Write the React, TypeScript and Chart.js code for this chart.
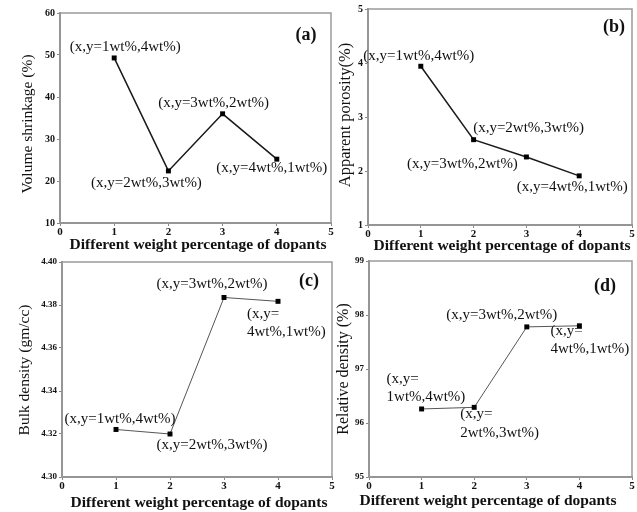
import React, { useEffect, useRef } from "react";
import { Chart, registerables } from "chart.js";
Chart.register(...registerables);

const dopantSteps = [1, 2, 3, 4];
const volumeShrinkage = [49.3, 22.4, 36.0, 25.2];
const apparentPorosity = [3.94, 2.58, 2.26, 1.91];
const bulkDensity = [4.3221, 4.32, 4.3835, 4.3817];
const relativeDensity = [96.26, 96.29, 97.78, 97.8];
const pointLabels = ["(x,y=1wt%,4wt%)", "(x,y=2wt%,3wt%)", "(x,y=3wt%,2wt%)", "(x,y=4wt%,1wt%)"];
const splitLabels = [
  ["(x,y=", "1wt%,4wt%)"],
  ["(x,y=", "2wt%,3wt%)"],
  ["(x,y=", "3wt%,2wt%)"],
  ["(x,y=", "4wt%,1wt%)"],
];
const xTitle = "Different weight percentage of dopants";
const yTitles = ["Volume shrinkage (%)", "Apparent porosity(%)", "Bulk density (gm/cc)", "Relative density (%)"];
const panelTags = ["(a)", "(b)", "(c)", "(d)"];

const SERIF = "'Liberation Serif', 'Times New Roman', serif";

type LabelSpec = { lines: string[]; dx: number; dy: number[]; align: CanvasTextAlign };

type Panel = {
  box: { left: number; top: number; width: number; height: number };
  yW: number; padR: number; padT: number; xH: number;
  yMin: number; yMax: number; yStep: number; decimals: number;
  values: number[];
  yTitle: string; yTitlePos: [number, number]; yTitleSize: number;
  xTitlePos: [number, number];
  tag: string; tagPos: [number, number];
  labels: LabelSpec[];
  lineColor: string; lineWidth: number; yTickSize: number;
};

const c = (lines: string[], dx: number, dy: number): LabelSpec => ({ lines, dx, dy: [dy], align: "center" });
const s = (lines: string[], dx: number, dy: number[]): LabelSpec => ({ lines, dx, dy, align: "left" });

const panels: Panel[] = [
  {
    box: { left: 0, top: 0, width: 340, height: 256 },
    yW: 60, padR: 9, padT: 13, xH: 33,
    yMin: 10, yMax: 60, yStep: 10, decimals: 0,
    values: volumeShrinkage,
    yTitle: yTitles[0], yTitlePos: [28, 124], yTitleSize: 15.5,
    xTitlePos: [198, 245],
    tag: panelTags[0], tagPos: [306, 35],
    labels: [
      c([pointLabels[0]], 11, -11),
      c([pointLabels[1]], -22, 12),
      c([pointLabels[2]], -9, -11),
      c([pointLabels[3]], -5, 9),
    ],
    lineColor: "#1a1a1a", lineWidth: 1.5, yTickSize: 10,
  },
  {
    box: { left: 310, top: 0, width: 327, height: 256 },
    yW: 58, padR: 5, padT: 9, xH: 31,
    yMin: 1, yMax: 5, yStep: 1, decimals: 0,
    values: apparentPorosity,
    yTitle: yTitles[1], yTitlePos: [346, 115], yTitleSize: 16.5,
    xTitlePos: [502, 246],
    tag: panelTags[1], tagPos: [614, 27],
    labels: [
      c([pointLabels[0]], -2, -10),
      c([pointLabels[1]], 55, -12),
      c([pointLabels[2]], -64, 7),
      c([pointLabels[3]], -7, 11),
    ],
    lineColor: "#1a1a1a", lineWidth: 1.5, yTickSize: 10,
  },
  {
    box: { left: 0, top: 250, width: 340, height: 262 },
    yW: 62, padR: 8, padT: 12, xH: 35,
    yMin: 4.3, yMax: 4.4, yStep: 0.02, decimals: 2,
    values: bulkDensity,
    yTitle: yTitles[2], yTitlePos: [25, 370], yTitleSize: 15.5,
    xTitlePos: [199, 503],
    tag: panelTags[2], tagPos: [309, 281],
    labels: [
      c([pointLabels[0]], 4, -10),
      c([pointLabels[1]], 42, 11),
      c([pointLabels[2]], -12, -13),
      s(splitLabels[3], -31, [13, 31]),
    ],
    lineColor: "#555555", lineWidth: 1, yTickSize: 9,
  },
  {
    box: { left: 310, top: 250, width: 327, height: 262 },
    yW: 59, padR: 5, padT: 11, xH: 35,
    yMin: 95, yMax: 99, yStep: 1, decimals: 0,
    values: relativeDensity,
    yTitle: yTitles[3], yTitlePos: [344, 369], yTitleSize: 16,
    xTitlePos: [488, 501],
    tag: panelTags[3], tagPos: [605, 286],
    labels: [
      s(splitLabels[0], -35, [-30, -12]),
      s(splitLabels[1], -14, [7, 26]),
      c([pointLabels[2]], -25, -12),
      s(splitLabels[3], -29, [5, 23]),
    ],
    lineColor: "#555555", lineWidth: 1, yTickSize: 9,
  },
];

function makeChart(canvas: HTMLCanvasElement, p: Panel) {
  const decorations = {
    id: "decorations",
    beforeDatasetsDraw(chart: any) {
      const { ctx, chartArea } = chart;
      ctx.save();
      ctx.strokeStyle = "#9a9a9a";
      ctx.lineWidth = 1.5;
      ctx.strokeRect(chartArea.left, chartArea.top, chartArea.right - chartArea.left, chartArea.bottom - chartArea.top);
      ctx.restore();
    },
    afterDatasetsDraw(chart: any) {
      const { ctx } = chart;
      const xs = chart.scales.x;
      const ys = chart.scales.y;
      const ox = p.box.left;
      const oy = p.box.top;
      ctx.save();
      ctx.fillStyle = "#111";
      ctx.textBaseline = "middle";
      ctx.font = `15px ${SERIF}`;
      p.labels.forEach((lab, i) => {
        const px = xs.getPixelForValue(dopantSteps[i]);
        const py = ys.getPixelForValue(p.values[i]);
        ctx.textAlign = lab.align;
        lab.lines.forEach((line, j) => {
          ctx.fillText(line, px + lab.dx, py + lab.dy[j]);
        });
      });
      ctx.font = `bold 18px ${SERIF}`;
      ctx.textAlign = "center";
      ctx.fillText(p.tag, p.tagPos[0] - ox, p.tagPos[1] - oy);
      ctx.font = `bold 15.5px ${SERIF}`;
      ctx.fillText(xTitle, p.xTitlePos[0] - ox, p.xTitlePos[1] - oy);
      ctx.font = `${p.yTitleSize}px ${SERIF}`;
      ctx.translate(p.yTitlePos[0] - ox, p.yTitlePos[1] - oy);
      ctx.rotate(-Math.PI / 2);
      ctx.fillText(p.yTitle, 0, 0);
      ctx.restore();
    },
  };

  return new Chart(canvas, {
    type: "line",
    data: {
      datasets: [
        {
          data: dopantSteps.map((x, i) => ({ x, y: p.values[i] })),
          borderColor: p.lineColor,
          borderWidth: p.lineWidth,
          pointStyle: "rect",
          pointRadius: 3.5,
          pointBackgroundColor: "#000",
          pointBorderColor: "#000",
          pointBorderWidth: 0,
          tension: 0,
        },
      ],
    },
    options: {
      animation: false,
      responsive: false,
      maintainAspectRatio: false,
      events: [],
      layout: { padding: { left: 0, right: p.padR, top: p.padT, bottom: 0 } },
      plugins: { legend: { display: false }, tooltip: { enabled: false } },
      scales: {
        x: {
          type: "linear",
          min: 0,
          max: 5,
          afterFit: (sc: any) => { sc.height = p.xH; },
          ticks: { stepSize: 1, padding: 0, color: "#111", font: { family: SERIF, size: 11, weight: "bold" } },
          grid: { drawOnChartArea: false, drawTicks: true, tickLength: 3, color: "#888" },
          border: { color: "#888", width: 2 },
        },
        y: {
          type: "linear",
          min: p.yMin,
          max: p.yMax,
          afterFit: (sc: any) => { sc.width = p.yW; },
          ticks: {
            stepSize: p.yStep,
            padding: 2,
            color: "#111",
            font: { family: SERIF, size: p.yTickSize, weight: "bold" },
            callback: (v: any) => Number(v).toFixed(p.decimals),
          },
          grid: { drawOnChartArea: false, drawTicks: true, tickLength: 3, color: "#888" },
          border: { color: "#888", width: 2 },
        },
      },
    },
    plugins: [decorations],
  });
}

function PanelChart({ p }: { p: Panel }) {
  const ref = useRef<HTMLCanvasElement>(null);
  useEffect(() => {
    if (!ref.current) return;
    const ch = makeChart(ref.current, p);
    return () => ch.destroy();
  }, [p]);
  return (
    <canvas
      ref={ref}
      width={p.box.width}
      height={p.box.height}
      style={{ position: "absolute", left: p.box.left, top: p.box.top, width: p.box.width, height: p.box.height }}
    />
  );
}

export default function App() {
  return (
    <div style={{ position: "absolute", left: 0, top: 0, width: 637, height: 512, background: "#fff", overflow: "hidden" }}>
      {panels.map((p, i) => (
        <PanelChart key={i} p={p} />
      ))}
    </div>
  );
}
